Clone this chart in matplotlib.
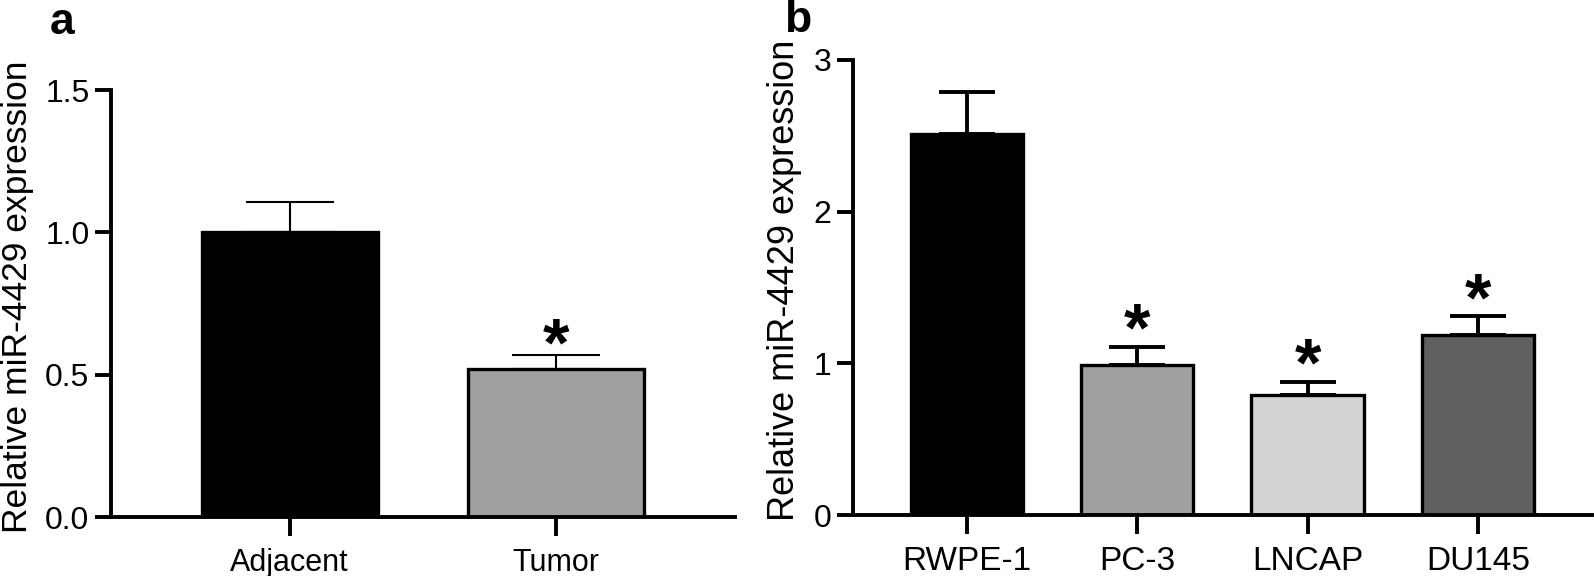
import numpy as np
import matplotlib.pyplot as plt

plt.rcParams['font.family'] = ['Liberation Sans', 'DejaVu Sans']

# panel a
groups_a = ['Adjacent', 'Tumor']
means_a = [1.0, 0.52]
errs_a = [0.105, 0.05]
colors_a = ['#000000', '#a0a0a0']
stars_a = [False, True]

# panel b
groups_b = ['RWPE-1', 'PC-3', 'LNCAP', 'DU145']
means_b = [2.51, 0.99, 0.79, 1.19]
errs_b = [0.28, 0.12, 0.09, 0.12]
colors_b = ['#000000', '#a0a0a0', '#d3d3d3', '#606060']
stars_b = [False, True, True, True]

ylabel = 'Relative miR-4429 expression'

fig = plt.figure(figsize=(15.94, 5.76), dpi=100)
ax1 = fig.add_axes([0.0696, 0.1024, 0.3915, 0.7413])
ax2 = fig.add_axes([0.5351, 0.1059, 0.4636, 0.790])


def draw(ax, groups, means, errs, colors, stars, ymax, yticks, ytl,
         elw, cap, off, xfs, yfs, lfs):
    x = np.arange(len(groups))
    ax.errorbar(x, means, yerr=[np.zeros(len(errs)), errs], fmt='none',
                ecolor='black', elinewidth=elw, capsize=cap, capthick=elw,
                zorder=1)
    ax.bar(x, means, width=0.66, color=colors, edgecolor='black',
           linewidth=2.4, zorder=2)
    for xi, m, e, s in zip(x, means, errs, stars):
        if s:
            ax.annotate('*', (xi, m + e), xytext=(0, off),
                        textcoords='offset points', ha='center',
                        va='center', fontsize=49, fontweight='bold')
    ax.set_xlim(-0.67, len(groups) - 1 + 0.67)
    ax.set_ylim(0, ymax)
    ax.set_xticks(x)
    ax.set_xticklabels(groups, fontsize=xfs)
    ax.set_yticks(yticks)
    ax.set_yticklabels(ytl, fontsize=yfs)
    for sp in ['top', 'right']:
        ax.spines[sp].set_visible(False)
    for sp in ['left', 'bottom']:
        ax.spines[sp].set_linewidth(2.8)
    ax.tick_params(axis='y', length=11.5, width=2.8, pad=4)
    ax.tick_params(axis='x', length=14, width=2.8, pad=8)
    ax.set_ylabel(ylabel, fontsize=lfs, labelpad=8)
    ax.yaxis.label.set_y(0.515)


draw(ax1, groups_a, means_a, errs_a, colors_a, stars_a, 1.5,
     [0, 0.5, 1.0, 1.5], ['0.0', '0.5', '1.0', '1.5'], 1.5, 32, 5,
     22, 23, 25.5)
draw(ax2, groups_b, means_b, errs_b, colors_b, stars_b, 3,
     [0, 1, 2, 3], ['0', '1', '2', '3'], 2.8, 20, 10,
     24, 23, 26)

fig.text(0.031, 0.997, 'a', fontsize=32, fontweight='bold', va='top')
fig.text(0.492, 1.0, 'b', fontsize=32, fontweight='bold', va='top')

fig.savefig('out.png', dpi=100)
